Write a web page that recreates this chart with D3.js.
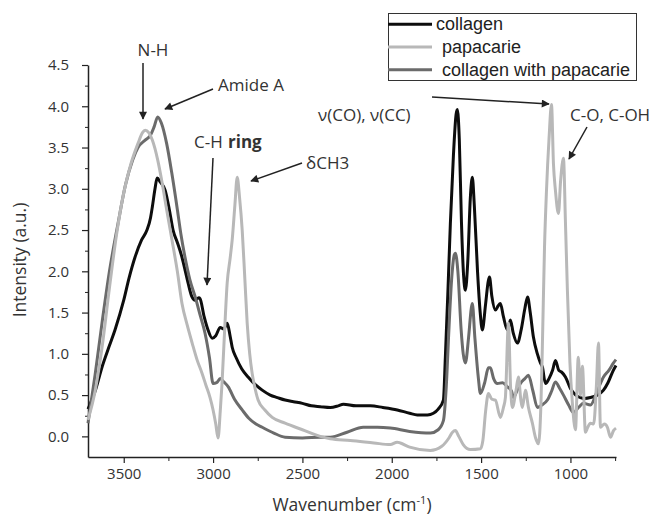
<!DOCTYPE html>
<html>
<head>
<meta charset="utf-8">
<script src="https://cdn.jsdelivr.net/npm/d3@7"></script>
<style>
  body { margin: 0; background: #fff; }
  svg { display: block; }
  .tick text { font-family: "Open Sans", sans-serif; font-size: 15px; fill: #333; }
  .ann { font-family: "Open Sans", sans-serif; font-size: 17px; fill: #333; }
  .legend text { font-family: "Liberation Sans", Arial, sans-serif; font-size: 18px; fill: #222; }
</style>
</head>
<body>
<svg width="651" height="518"></svg>
<script>
// collagen
const collagenWn = [3700,3660,3620,3580,3549,3500,3470,3437,3400,3370,3350,3340,3325,3313,3295,3268,3245,3224,3200,3174,3155,3140,3120,3100,3080,3073,3050,3030,3005,2985,2960,2940,2921,2905,2893,2870,2840,2804,2760,2725,2680,2640,2597,2550,2500,2450,2400,2344,2300,2271,2200,2120,2050,1969,1900,1857,1800,1767,1740,1711,1700,1685,1672,1655,1640,1633,1622,1610,1598,1588,1575,1560,1549,1538,1520,1505,1493,1475,1460,1453,1440,1420,1405,1392,1375,1353,1340,1336,1320,1297,1275,1255,1240,1225,1207,1185,1168,1157,1140,1120,1100,1084,1065,1050,1028,1000,970,944,920,888,850,815,790,760,745];
const collagenI = [0.33,0.55,0.85,1.10,1.29,1.65,1.92,2.17,2.38,2.50,2.65,2.78,3.00,3.13,3.08,2.98,2.75,2.50,2.35,2.17,2.00,1.86,1.70,1.65,1.68,1.67,1.45,1.30,1.19,1.22,1.32,1.30,1.37,1.22,1.08,0.95,0.82,0.72,0.62,0.56,0.50,0.47,0.44,0.42,0.40,0.37,0.36,0.35,0.37,0.39,0.37,0.37,0.35,0.32,0.28,0.26,0.26,0.28,0.33,0.44,0.96,1.80,2.58,3.40,3.90,3.96,3.60,2.60,1.95,1.77,2.10,2.90,3.14,2.80,2.00,1.50,1.29,1.60,1.88,1.93,1.70,1.53,1.58,1.61,1.45,1.29,1.38,1.41,1.25,1.13,1.30,1.55,1.69,1.50,1.20,1.00,0.89,0.84,0.64,0.70,0.80,0.92,0.80,0.78,0.72,0.58,0.50,0.47,0.46,0.47,0.50,0.56,0.65,0.80,0.86];

// papacarie
const papacarieWn = [3700,3660,3620,3580,3540,3500,3460,3420,3395,3380,3360,3340,3310,3285,3260,3230,3200,3174,3145,3117,3090,3061,3040,3017,3000,2985,2972,2960,2950,2935,2921,2905,2893,2878,2865,2852,2837,2822,2809,2795,2781,2765,2748,2710,2669,2597,2500,2400,2344,2232,2100,2008,1970,1952,1900,1784,1720,1680,1660,1644,1625,1600,1560,1504,1490,1475,1459,1440,1420,1392,1375,1364,1347,1335,1325,1305,1291,1278,1269,1252,1235,1213,1195,1179,1165,1157,1145,1134,1120,1106,1095,1084,1067,1055,1039,1028,1017,1003,989,972,956,944,933,916,905,888,870,855,843,832,810,793,776,759,745];
const papacarieI = [0.20,0.55,1.10,1.80,2.45,2.95,3.30,3.55,3.68,3.71,3.68,3.59,3.35,3.07,2.75,2.38,2.00,1.61,1.35,1.13,0.93,0.76,0.62,0.47,0.32,0.15,-0.02,0.30,0.64,1.30,1.86,2.15,2.38,2.80,3.14,2.90,2.50,1.90,1.37,1.00,0.76,0.58,0.44,0.32,0.23,0.16,0.08,0.00,-0.03,-0.05,-0.08,-0.10,-0.07,-0.08,-0.13,-0.17,-0.12,-0.02,0.05,0.07,0.00,-0.10,-0.16,-0.15,-0.05,0.30,0.52,0.45,0.44,0.23,0.35,0.47,1.37,0.60,0.35,0.55,0.72,0.45,0.35,0.56,0.35,0.16,-0.02,-0.09,0.40,1.10,2.30,2.98,3.60,4.02,3.30,2.98,2.70,3.10,3.37,2.60,1.77,0.90,0.40,0.08,0.96,0.50,0.85,0.05,0.10,0.16,0.15,0.60,1.13,0.11,0.15,0.11,-0.01,0.07,0.10];

// collagen with papacarie
const mixWn = [3700,3660,3620,3580,3532,3490,3450,3420,3380,3350,3330,3310,3290,3260,3231,3200,3180,3157,3130,3100,3070,3045,3020,3000,2980,2960,2940,2915,2880,2837,2800,2760,2725,2660,2597,2500,2400,2344,2250,2160,2080,2008,1900,1784,1740,1711,1695,1680,1665,1650,1644,1630,1612,1600,1588,1570,1555,1549,1535,1515,1504,1480,1459,1448,1430,1409,1380,1353,1330,1319,1300,1280,1255,1235,1210,1185,1160,1129,1105,1084,1060,1039,1010,983,955,927,888,850,815,785,759,745];
const mixI = [0.16,0.75,1.40,2.00,2.58,3.05,3.35,3.50,3.59,3.65,3.75,3.87,3.80,3.55,3.19,2.75,2.45,2.17,1.90,1.69,1.45,1.25,0.95,0.64,0.65,0.70,0.66,0.60,0.45,0.32,0.22,0.15,0.11,0.04,-0.01,-0.02,-0.01,-0.01,0.05,0.11,0.11,0.10,0.06,0.04,0.08,0.19,0.60,1.30,1.90,2.20,2.22,2.00,1.30,1.00,0.89,1.20,1.55,1.61,1.20,0.70,0.52,0.65,0.83,0.83,0.70,0.64,0.65,0.60,0.55,0.47,0.55,0.64,0.70,0.74,0.55,0.35,0.38,0.44,0.55,0.66,0.58,0.50,0.38,0.29,0.35,0.40,0.38,0.55,0.72,0.80,0.89,0.93];

const seriesNames = ["collagen", "papacarie", "collagen with papacarie"];
const yTicks = [0, 0.5, 1, 1.5, 2, 2.5, 3, 3.5, 4, 4.5];
const xTicks = [3500, 3000, 2500, 2000, 1500, 1000];

const svg = d3.select("svg");

const x = d3.scaleLinear().domain([3700, 745]).range([88, 616]);
const y = d3.scaleLinear().domain([-0.25, 4.5]).range([457, 65]);

const colors = { "collagen": "#0d0d0d", "papacarie": "#b8b8b8", "collagen with papacarie": "#6b6b6b" };

// minor ticks
svg.append("g")
    .attr("transform", "translate(88,0)")
    .call(d3.axisLeft(y).tickValues(d3.range(0.25, 4.5, 0.5)).tickSize(3).tickFormat(""))
    .call(g => g.select(".domain").remove())
    .selectAll("line").attr("stroke", "#222");

svg.append("g")
    .attr("transform", "translate(0,457)")
    .call(d3.axisBottom(x).tickValues([3250, 2750, 2250, 1750, 1250, 750]).tickSize(4).tickFormat(""))
    .call(g => g.select(".domain").remove())
    .selectAll("line").attr("stroke", "#222");

const yAxis = svg.append("g")
    .attr("transform", "translate(88,0)")
    .call(d3.axisLeft(y).tickValues(yTicks).tickFormat(d3.format(".1f")).tickSize(6).tickSizeOuter(0).tickPadding(13));

const xAxis = svg.append("g")
    .attr("transform", "translate(0,457)")
    .call(d3.axisBottom(x).tickValues(xTicks).tickFormat(d3.format("d")).tickSize(6).tickSizeOuter(0).tickPadding(5));

[yAxis, xAxis].forEach(g => {
  g.select(".domain").attr("stroke", "#222").attr("stroke-width", 1.5);
  g.selectAll(".tick line").attr("stroke", "#222").attr("stroke-width", 1.2);
  g.attr("font-family", null).attr("font-size", null);
});

// spectra
const line = d3.line()
    .x(d => x(d[0]))
    .y(d => y(d[1]))
    .curve(d3.curveMonotoneX);

const spectra = [
  { name: "collagen", wn: collagenWn, val: collagenI },
  { name: "collagen with papacarie", wn: mixWn, val: mixI },
  { name: "papacarie", wn: papacarieWn, val: papacarieI }
];

svg.selectAll(".spectrum")
    .data(spectra)
    .enter().append("path")
    .attr("class", "spectrum")
    .attr("fill", "none")
    .attr("stroke", d => colors[d.name])
    .attr("stroke-width", 3)
    .attr("stroke-linejoin", "round")
    .attr("d", d => line(d3.zip(d.wn, d.val)));

// axis titles
svg.append("text")
    .attr("class", "ann")
    .attr("transform", "translate(26,260) rotate(-90)")
    .attr("text-anchor", "middle")
    .style("font-size", "17.5px")
    .text("Intensity (a.u.)");

const xt = svg.append("text")
    .attr("class", "ann")
    .attr("x", 352).attr("y", 511)
    .attr("text-anchor", "middle")
    .style("font-size", "17.5px");
xt.append("tspan").text("Wavenumber (cm");
xt.append("tspan").attr("dy", -7).style("font-size", "11px").text("-1");
xt.append("tspan").attr("dy", 7).text(")");

// legend
const legend = svg.append("g").attr("class", "legend");
legend.append("rect")
    .attr("x", 388.5).attr("y", 13.5).attr("width", 248).attr("height", 67)
    .attr("fill", "#fff").attr("stroke", "#333").attr("stroke-width", 1);

const legendRow = d3.scaleBand().domain(seriesNames).range([13, 81]);
const textX = { "collagen": 436, "papacarie": 442, "collagen with papacarie": 442 };

seriesNames.forEach(name => {
  const cy = legendRow(name) + legendRow.bandwidth() / 2;
  legend.append("line")
      .attr("x1", 388).attr("x2", 432).attr("y1", cy).attr("y2", cy)
      .attr("stroke", colors[name]).attr("stroke-width", 3);
  legend.append("text")
      .attr("x", textX[name]).attr("y", cy + 6)
      .text(name);
});

// annotations
svg.append("defs").append("marker")
    .attr("id", "arrow")
    .attr("viewBox", "0 0 10 10")
    .attr("refX", 9).attr("refY", 5)
    .attr("markerWidth", 10).attr("markerHeight", 8)
    .attr("markerUnits", "userSpaceOnUse")
    .attr("orient", "auto")
    .append("path").attr("d", "M0,0 L10,5 L0,10 Z").attr("fill", "#222");

const arrows = [
  [143, 63, 143, 119],
  [213, 89, 165, 109],
  [213, 158, 207, 285],
  [302, 163, 251, 181],
  [432, 97, 549, 104],
  [587, 127, 569, 159]
];
svg.selectAll(".arrow")
    .data(arrows)
    .enter().append("line")
    .attr("class", "arrow")
    .attr("x1", d => d[0]).attr("y1", d => d[1])
    .attr("x2", d => d[2]).attr("y2", d => d[3])
    .attr("stroke", "#222").attr("stroke-width", 1.5)
    .attr("marker-end", "url(#arrow)");

const labels = [
  ["N-H", 153, 56, "middle", "normal"],
  ["Amide A", 218, 91, "start", "normal"],
  ["C-H", 194, 148, "start", "normal"],
  ["ring", 228, 148, "start", "bold"],
  ["\u03b4CH3", 306, 169, "start", "normal"],
  ["\u03bd(CO), \u03bd(CC)", 318, 121, "start", "normal"],
  ["C-O, C-OH", 570, 121, "start", "normal"]
];
svg.selectAll(".label")
    .data(labels)
    .enter().append("text")
    .attr("class", "ann label")
    .attr("x", d => d[1]).attr("y", d => d[2])
    .attr("text-anchor", d => d[3])
    .style("font-weight", d => d[4])
    .text(d => d[0]);
</script>
</body>
</html>
